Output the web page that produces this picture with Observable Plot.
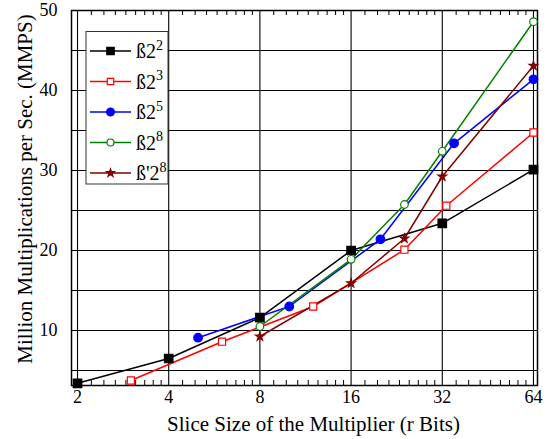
<!DOCTYPE html>
<html><head><meta charset="utf-8">
<script src="https://cdn.jsdelivr.net/npm/d3@7"></script>
<script src="https://cdn.jsdelivr.net/npm/@observablehq/plot@0.6"></script>
<style>
body{margin:0;background:#fff;}
#chart{width:556px;height:439px;}
</style></head><body><div id="chart"></div>
<script>
// ---- data ----
const seriesNames = ["ß2^2", "ß2^3", "ß2^5", "ß2^8", "ß'2^8"];
const legendBase = ["ß2", "ß2", "ß2", "ß2", "ß'2"];
const legendSup = ["2", "3", "5", "8", "8"];
const x_b22 = [2, 4, 8, 16, 32, 64];
const y_b22 = [3.4, 6.5, 11.6, 20.0, 23.4, 30.1];
const x_b23 = [3, 6, 12, 24, 33, 64];
const y_b23 = [3.75, 8.6, 13.0, 20.1, 25.6, 34.75];
const x_b25 = [5, 10, 20, 35, 64];
const y_b25 = [9.1, 13.0, 21.4, 33.4, 41.4];
const x_b28 = [8, 16, 24, 32, 64];
const y_b28 = [10.5, 18.9, 25.75, 32.4, 48.6];
const x_bp28 = [8, 16, 24, 32, 64];
const y_bp28 = [9.25, 15.9, 21.5, 29.25, 43.1];
const xTicks = [2, 4, 8, 16, 32, 64];
const yTicks = [10, 20, 30, 40, 50];
const yGrid = [5, 10, 15, 20, 25, 30, 35, 40, 45, 50];
const xTitle = "Slice Size of the Multiplier (r Bits)";
const yTitle = "Million Multiplications per Sec. (MMPS)";

// ---- styles ----
const colors = ["#000000", "#ff0000", "#0000ff", "#008000", "#800000"];
const symbols = ["square", "square", "circle", "circle", "star"];
const filled = [true, false, true, false, true];
const sizes = [4.8, 4.0, 4.3, 3.8, 2.7];

const xsAll = [x_b22, x_b23, x_b25, x_b28, x_bp28];
const ysAll = [y_b22, y_b23, y_b25, y_b28, y_bp28];
const rows = seriesNames.map((n, i) => xsAll[i].map((x, j) => ({series: n, x, y: ysAll[i][j]})));

// minor ticks: 8 per octave, linear within octave
const minor = [];
for (let b = 2; b < 64; b *= 2) for (let k = 1; k <= 8; k++) minor.push(b * (1 + k / 9));

const W = 556, H = 439, mL = 71, mR = 19, mT = 10, mB = 54;
const frameH = H - mT - mB;

const marks = [
  Plot.ruleY(yGrid, {stroke: "black", strokeWidth: 1.1}),
  Plot.ruleX(xTicks, {stroke: "black", strokeWidth: 1.1}),
  Plot.ruleX(minor, {stroke: "black", strokeWidth: 1, insetTop: frameH - 5}),
  Plot.ruleX(minor, {stroke: "black", strokeWidth: 1, insetBottom: frameH - 5}),
  Plot.frame({stroke: "black", strokeWidth: 1.5}),
  Plot.axisX(xTicks, {tickSize: 0, tickPadding: 5, tickFormat: d => String(d), fontSize: 18, label: null}),
  Plot.axisY(yTicks, {tickSize: 0, tickPadding: 14, tickFormat: d => String(d), fontSize: 18, label: null}),
  Plot.text([xTitle], {text: d => d, frameAnchor: "bottom", textAnchor: "middle", lineAnchor: "middle", dx: 9, dy: 39, fontSize: 21}),
  Plot.text([yTitle], {text: d => d, frameAnchor: "left", textAnchor: "middle", lineAnchor: "middle", rotate: -90, dx: -46, dy: -9, fontSize: 21})
];
rows.forEach((r, i) => {
  marks.push(Plot.line(r, {x: "x", y: "y", stroke: colors[i], strokeWidth: 1.5}));
});
rows.forEach((r, i) => {
  marks.push(Plot.dot(r, {x: "x", y: "y", symbol: symbols[i], r: sizes[i],
    fill: filled[i] ? colors[i] : "white", stroke: colors[i], strokeWidth: 1.2}));
});

const plot = Plot.plot({
  width: W, height: H,
  marginLeft: mL, marginRight: mR, marginTop: mT, marginBottom: mB,
  x: {type: "log", base: 2, domain: [1.9107, 65.99]},
  y: {domain: [3.125, 50]},
  style: {fontFamily: "'Liberation Serif', 'Times New Roman', serif", fontSize: "18px", background: "white", color: "black"},
  marks
});
document.getElementById("chart").appendChild(plot);

// ---- legend ----
const svg = d3.select(plot);
const lg = svg.append("g").attr("text-anchor", "start");
lg.append("rect").attr("x", 86).attr("y", 31.5).attr("width", 82).attr("height", 152.5)
  .attr("fill", "white").attr("stroke", "#333").attr("stroke-width", 1);
const legSizes = [4.2, 3.6, 3.9, 3.5, 2.5];
seriesNames.forEach((n, i) => {
  const cy = 51 + i * 30.5;
  const g = lg.append("g");
  g.append("line").attr("x1", 90).attr("x2", 131).attr("y1", cy).attr("y2", cy)
    .attr("stroke", colors[i]).attr("stroke-width", 1.5);
  const symMap = {square: d3.symbolSquare, circle: d3.symbolCircle, star: d3.symbolStar};
  g.append("path").attr("transform", `translate(110.5,${cy})`)
    .attr("d", d3.symbol(symMap[symbols[i]], Math.PI * legSizes[i] * legSizes[i])())
    .attr("fill", filled[i] ? colors[i] : "white").attr("stroke", colors[i]).attr("stroke-width", 1.2);
  const t = g.append("text").attr("x", 136).attr("y", cy + 7)
    .attr("font-size", 20).attr("fill", "black").attr("text-anchor", "start");
  t.append("tspan").text(legendBase[i]);
  t.append("tspan").attr("dy", -8.5).attr("font-size", 14).text(legendSup[i]);
});
</script></body></html>
